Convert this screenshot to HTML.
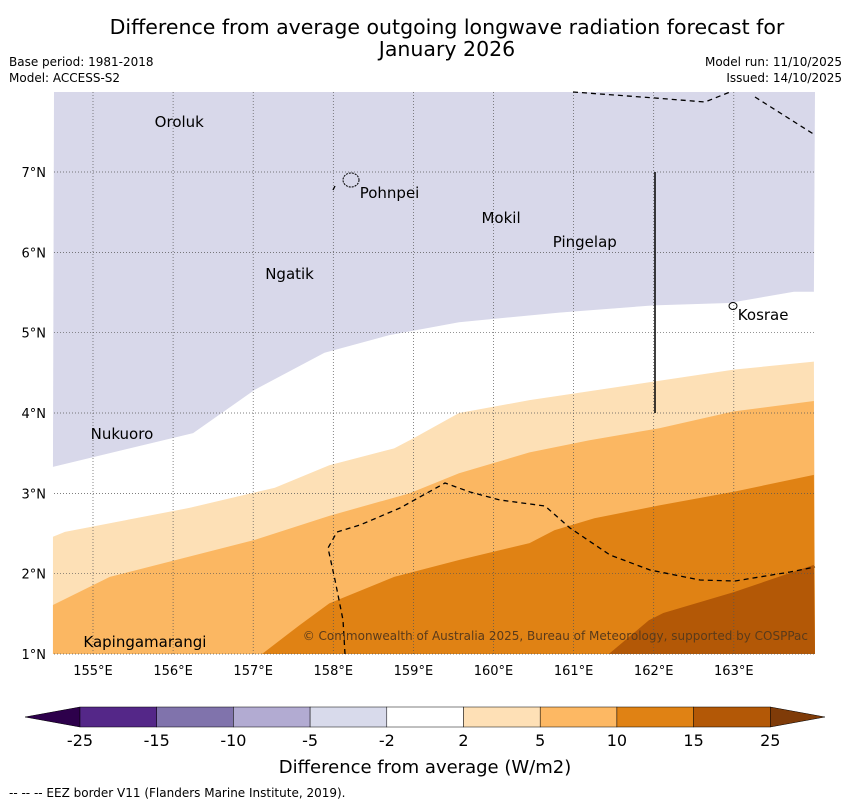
<!DOCTYPE html>
<html><head><meta charset="utf-8"><style>
body{margin:0;background:#fff;font-family:"Liberation Sans","DejaVu Sans",sans-serif}
svg text{font-family:"DejaVu Sans","Liberation Sans",sans-serif}
</style></head><body>
<svg id="chart" width="850" height="804" viewBox="0 0 850 804" xmlns="http://www.w3.org/2000/svg">
<text x="447" y="34" font-size="20.5" text-anchor="middle">Difference from average outgoing longwave radiation forecast for</text>
<text x="447" y="56" font-size="20.5" text-anchor="middle">January 2026</text>
<text x="9" y="66" font-size="12">Base period: 1981-2018</text>
<text x="9" y="82" font-size="12">Model: ACCESS-S2</text>
<text x="842" y="66" font-size="12" text-anchor="end">Model run: 11/10/2025</text>
<text x="842" y="82" font-size="12" text-anchor="end">Issued: 14/10/2025</text>
<g id="plot"></g>
<g id="cbar"></g>
<text x="425" y="773" font-size="18" text-anchor="middle">Difference from average (W/m2)</text>
<text x="9" y="797" font-size="12">--  --  -- EEZ border V11 (Flanders Marine Institute, 2019).</text>
</svg>
<script>
const lavLon=[154.5,156.25,157.02,157.89,158.70,159.57,160.82,162.0,162.94,163.75,164.0];
const lavLat=[3.33,3.75,4.29,4.75,4.97,5.13,5.25,5.34,5.37,5.51,5.51];
const c2Lon=[154.5,154.65,156.21,157.27,157.95,158.76,159.01,159.57,160.45,161.32,163.0,164.0];
const c2Lat=[2.46,2.52,2.82,3.07,3.35,3.56,3.69,4.00,4.16,4.29,4.54,4.64];
const c5Lon=[154.5,155.21,157.02,157.95,158.95,159.57,160.45,161.19,162.07,163.0,164.0];
const c5Lat=[1.61,1.96,2.42,2.72,3.00,3.25,3.51,3.66,3.81,4.02,4.15];
const c10Lon=[157.11,157.58,157.95,158.76,159.57,160.45,160.76,161.26,162.07,163.0,164.0];
const c10Lat=[1.0,1.36,1.63,1.96,2.17,2.38,2.54,2.69,2.85,3.02,3.23];
const c15Lon=[161.44,161.94,162.12,163.0,164.0];
const c15Lat=[1.0,1.42,1.51,1.77,2.11];
const xTicks=[155,156,157,158,159,160,161,162,163];
const yTicks=[1,2,3,4,5,6,7];
const cbLabels=["-25","-15","-10","-5","-2","2","5","10","15","25"];
const cbColors=["#542788","#8073ac","#b2abd2","#d8daeb","#ffffff","#fee0b6","#fdb863","#e08214","#b35806"];
const places=[["Oroluk",155.77,7.62],["Pohnpei",158.33,6.74],["Mokil",159.85,6.43],["Pingelap",160.74,6.13],["Ngatik",157.15,5.73],["Kosrae",163.05,5.22],["Nukuoro",154.97,3.74],["Kapingamarangi",154.88,1.15]];
const NS="http://www.w3.org/2000/svg";
const X=lon=>93+(lon-155)*80.1;
const Y=lat=>654-(lat-1)*80.33;
const L=54,R=815,T=92,B=654;
const plot=document.getElementById('plot');
function mk(tag,attrs,parent){const e=document.createElementNS(NS,tag);for(const k in attrs)e.setAttribute(k,attrs[k]);(parent||plot).appendChild(e);return e;}
function pts(lo,la){return lo.map((v,i)=>X(v)+','+Y(la[i])).join(' ');}
let bg=mk('rect',{x:L,y:T,width:R-L,height:B-T,fill:'#fff'});


function band(lo,la,color,name){
  const p=mk('polygon',{points:pts(lo,la)+` ${R},${B} ${X(lo[0])},${B}`,fill:color});
  
  
}
let lav=mk('polygon',{points:`${L},${T} ${R},${T} `+pts(lavLon.slice().reverse(),lavLat.slice().reverse()),fill:'#d8d8ea'});


band(c2Lon,c2Lat,'#fde0b6','band-2-5');
band(c5Lon,c5Lat,'#fbb762','band-5-10');
band(c10Lon,c10Lat,'#e08214','band-10-15');
band(c15Lon,c15Lat,'#b35806','band-15-25');
xTicks.forEach(t=>{let l=mk('line',{x1:X(t),x2:X(t),y1:T,y2:B,stroke:'#555','stroke-width':0.7,'stroke-dasharray':'1,2'});
 
 
 let tx=mk('text',{x:X(t),y:675,'font-size':13,'text-anchor':'middle'});tx.textContent=t+'°E';
 
 });
yTicks.forEach(t=>{let l=mk('line',{x1:L,x2:R,y1:Y(t),y2:Y(t),stroke:'#555','stroke-width':0.7,'stroke-dasharray':'1,2'});
 
 
 let tx=mk('text',{x:46,y:Y(t)+5,'font-size':13,'text-anchor':'end'});tx.textContent=t+'°N';
 
 });
[[[573,92],[655,98],[705,102],[730,92]],[[755,97],[815,135]],[[333,190],[335,186]],
 [[345,654],[343,620],[335,580],[328,548],[337,532],[360,525],[400,508],[445,483],[470,492],[500,500],[545,506],[570,528],[610,555],[650,570],[700,580],[735,581],[790,572],[815,567]]].forEach(s=>{
 let p=mk('polyline',{points:s.map(q=>q.join(',')).join(' '),fill:'none',stroke:'#000','stroke-width':1.3,'stroke-dasharray':'5,4'});
 
 });
let vl=mk('line',{x1:655,x2:655,y1:172,y2:413,stroke:'#000','stroke-width':1.5});


let isl=mk('ellipse',{cx:351,cy:180,rx:8,ry:7,fill:'none',stroke:'#000','stroke-width':1,'stroke-dasharray':'2,1'});


let isl2=mk('ellipse',{cx:733,cy:306,rx:4,ry:3.5,fill:'none',stroke:'#000','stroke-width':1});


places.forEach(p=>{let t=mk('text',{x:X(p[1]),y:Y(p[2])+5,'font-size':15});t.textContent=p[0];
 
 });
let cp=mk('text',{x:808,y:640,'font-size':12,'text-anchor':'end',fill:'#5a3a1a'});cp.textContent='© Commonwealth of Australia 2025, Bureau of Meteorology, supported by COSPPac';


const cb=document.getElementById('cbar');
const cx0=80,cw=76.7,cy=707,ch=20;
let lt=mk('polygon',{points:`25,${cy+ch/2} ${cx0},${cy} ${cx0},${cy+ch}`,fill:'#2d004b',stroke:'#000','stroke-width':0.5},cb);


cbColors.forEach((c,i)=>{let r=mk('rect',{x:cx0+i*cw,y:cy,width:cw,height:ch,fill:c,stroke:'#000','stroke-width':0.5},cb);
 
 });
let ex=cx0+cbColors.length*cw;
let rt=mk('polygon',{points:`${ex},${cy} ${ex},${cy+ch} 825,${cy+ch/2}`,fill:'#7f3b08',stroke:'#000','stroke-width':0.5},cb);


cbLabels.forEach((s,i)=>{let t=mk('text',{x:cx0+i*cw,y:746,'font-size':16,'text-anchor':'middle'},cb);t.textContent=s;
 
 });
</script>
</body></html>
